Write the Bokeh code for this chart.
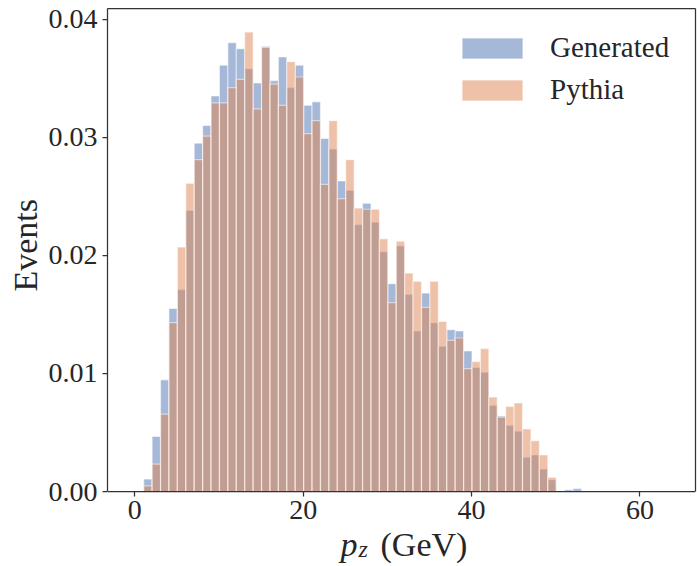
from bokeh.plotting import figure
from bokeh.models import (Range1d, FixedTicker, NumeralTickFormatter, Legend, LegendItem, Label,
                          ColumnDataSource, LinearAxis, Title)
from bokeh.embed import file_html
from bokeh.resources import INLINE

# bin edges (GeV): left edge of first bin and bin width
first_edge = 1.05
bin_width = 1.0

generated = [0.00105, 0.00466, 0.00946, 0.0155, 0.0171, 0.0238, 0.0295, 0.0310, 0.0335, 0.0361,
             0.0380, 0.0375, 0.0358, 0.0346, 0.0377, 0.0348, 0.0368, 0.0342, 0.0361, 0.0327,
             0.0330, 0.0299, 0.0290, 0.0263, 0.0255, 0.0226, 0.0244, 0.0228, 0.0203, 0.0176,
             0.0208, 0.0167, 0.0136, 0.0168, 0.0143, 0.0123, 0.0137, 0.0136, 0.0119, 0.0105,
             0.0101, 0.0073, 0.0064, 0.0056, 0.0051, 0.0029, 0.0031, 0.0019, 0.0010, 0.0,
             0.00014, 0.00025]
pythia = [0.00048, 0.00232, 0.00655, 0.0143, 0.0207, 0.0261, 0.0281, 0.0301, 0.0329, 0.0329,
          0.0342, 0.0349, 0.0389, 0.0324, 0.0376, 0.0345, 0.0327, 0.0364, 0.0351, 0.0303,
          0.0314, 0.0260, 0.0314, 0.0248, 0.0281, 0.0240, 0.0239, 0.0239, 0.0214, 0.0160,
          0.0212, 0.0185, 0.0178, 0.0156, 0.0178, 0.0144, 0.0128, 0.0130, 0.0104, 0.0110,
          0.0121, 0.0080, 0.0063, 0.0072, 0.0075, 0.0053, 0.0043, 0.0031, 0.0012, 0.0,
          0.0, 0.0]
x_ticks = [0, 20, 40, 60]
y_ticks = [0.0, 0.01, 0.02, 0.03, 0.04]

centers = [first_edge + bin_width * (i + 0.5) for i in range(len(generated))]

FONT = "Liberation Serif"
DARK = "#262626"
SPINE = "#333333"

X0, X1 = -3.25, 66.6
Y_TOP = 0.0409
PX_PER_Y = 483 / Y_TOP          # frame from y=8 (top) to y=491 (value 0)
Y_BOT = -(566 - 491) / PX_PER_Y  # frame extended to canvas bottom

p = figure(width=697, height=566, output_backend="svg", toolbar_location=None,
           x_range=Range1d(X0, X1), y_range=Range1d(Y_BOT, Y_TOP),
           min_border_left=107, min_border_right=2, min_border_top=8, min_border_bottom=0)
p.background_fill_color = "white"
p.border_fill_color = "white"
p.xgrid.visible = False
p.ygrid.visible = False
p.outline_line_color = None

src = ColumnDataSource(dict(x=centers, gen=generated, pyt=pythia))
r1 = p.vbar(x="x", top="gen", bottom=0, width=bin_width, source=src, fill_color="#4C72B0",
            fill_alpha=0.5, line_color="white", line_alpha=0.5, line_width=1.2)
r2 = p.vbar(x="x", top="pyt", bottom=0, width=bin_width, source=src, fill_color="#DD8452",
            fill_alpha=0.5, line_color="white", line_alpha=0.5, line_width=1.2)

for ax in (p.xaxis[0], p.yaxis[0]):
    ax.axis_line_color = SPINE
    ax.axis_line_width = 1.25
    ax.major_tick_line_color = SPINE
    ax.major_tick_line_width = 1.25
    ax.major_tick_out = 5
    ax.major_tick_in = 0
    ax.minor_tick_line_color = None
    ax.major_label_text_font = FONT
    ax.major_label_text_font_size = "28px"
    ax.major_label_text_color = DARK

p.xaxis.ticker = FixedTicker(ticks=x_ticks)
p.xaxis.major_label_standoff = 4
p.xaxis.fixed_location = 0

p.yaxis.ticker = FixedTicker(ticks=y_ticks)
p.yaxis.formatter = NumeralTickFormatter(format="0.00")
p.yaxis.major_label_standoff = 5
p.yaxis.bounds = (0, Y_TOP)

# y-axis title, centred on the 0..0.04 span
p.add_layout(Title(text="Events", align="left", offset=275, vertical_align="bottom", standoff=4,
                   text_font=FONT, text_font_size="34px", text_font_style="normal",
                   text_color=DARK), "left")

# top and right spines
top_ax = LinearAxis(ticker=FixedTicker(ticks=[]), axis_line_color=SPINE, axis_line_width=1.25,
                    major_tick_out=0, major_tick_in=0, minor_tick_out=0, minor_tick_in=0,
                    major_label_standoff=0)
right_ax = LinearAxis(ticker=FixedTicker(ticks=[]), axis_line_color=SPINE, axis_line_width=1.25,
                      major_tick_out=0, major_tick_in=0, minor_tick_out=0, minor_tick_in=0,
                      major_label_standoff=0, bounds=(0, Y_TOP))
p.add_layout(top_ax, "above")
p.add_layout(right_ax, "right")

# x-axis label built from pieces: p_z (GeV)
px_per_unit = 588 / (X1 - X0)
def dx(px):
    return X0 + (px - 107) / px_per_unit
def dy(py):
    return (491 - py) / PX_PER_Y

p.add_layout(Label(x=dx(340), y=dy(544), text="p", text_font=FONT, text_font_style="italic",
                   text_font_size="34px", text_color=DARK, text_baseline="alphabetic"))
p.add_layout(Label(x=dx(358), y=dy(548), text="z", text_font=FONT, text_font_style="italic",
                   text_font_size="24px", text_color=DARK, text_baseline="alphabetic"))
p.add_layout(Label(x=dx(380), y=dy(544), text="(GeV)", text_font=FONT,
                   text_font_size="34px", text_color=DARK, text_baseline="alphabetic"))

legend = Legend(items=[LegendItem(label="Generated", renderers=[r1]),
                       LegendItem(label="Pythia", renderers=[r2])],
                location=(347, 460))
legend.glyph_width = 76
legend.glyph_height = 26
legend.label_standoff = 20
legend.label_text_font = FONT
legend.label_text_font_size = "29px"
legend.label_text_color = DARK
legend.spacing = 9
legend.padding = 0
legend.margin = 0
legend.border_line_alpha = 0
legend.background_fill_alpha = 0
p.add_layout(legend)

open("out.html", "w").write(file_html(p, INLINE))
